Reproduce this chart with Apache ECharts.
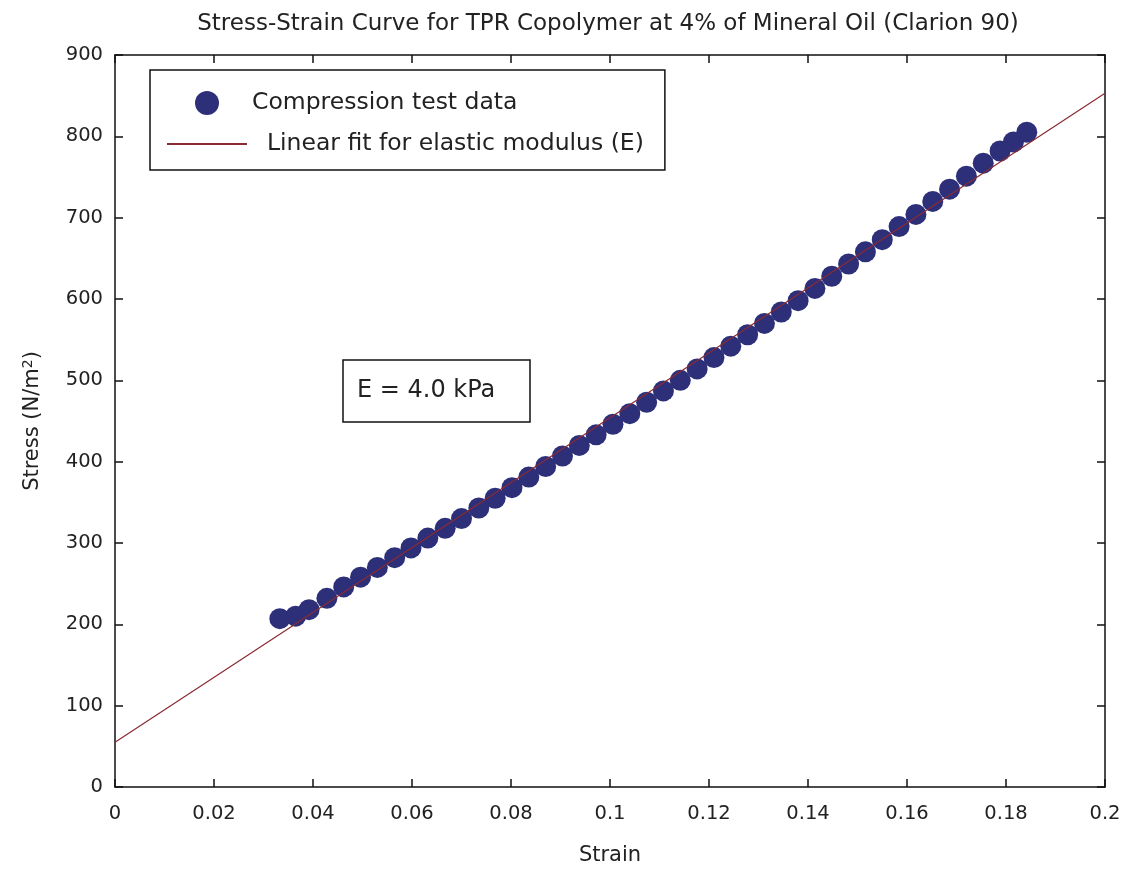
<!DOCTYPE html>
<html>
<head>
<meta charset="utf-8">
<script src="https://cdn.jsdelivr.net/npm/echarts@6/dist/echarts.min.js"></script>
<style>html,body{margin:0;padding:0;background:#fff;}#c{width:1129px;height:871px;}</style>
</head>
<body>
<div id="c"></div>
<script>
var strain = [0.0333,0.0365,0.0392,0.0428,0.0462,0.0496,0.0530,0.0565,0.0598,0.0632,0.0667,0.0700,0.0735,0.0768,0.0802,0.0836,0.0870,0.0904,0.0938,0.0972,0.1006,0.1040,0.1074,0.1108,0.1142,0.1176,0.1210,0.1244,0.1278,0.1312,0.1346,0.1380,0.1414,0.1448,0.1482,0.1516,0.1550,0.1584,0.1618,0.1652,0.1686,0.1720,0.1754,0.1788,0.1815,0.1842];
var stress = [207,210,218,232,246,258,270,282,294,306,318,330,343,355,368,381,394,407,420,433,446,459,473,487,500,514,528,542,556,570,584,598,613,628,643,658,673,689,704,720,735,751,767,782,793,805];
var fitStrain = [0, 0.2];
var fitStress = [55, 853];
var xTicks = [0,0.02,0.04,0.06,0.08,0.1,0.12,0.14,0.16,0.18,0.2];
var yTicks = [0,100,200,300,400,500,600,700,800,900];

var font = 'DejaVu Sans, Verdana, sans-serif';
var chart = echarts.init(document.getElementById('c'));
var scatterData = strain.map(function(x,i){return [x, stress[i]];});
var fitData = fitStrain.map(function(x,i){return [x, fitStress[i]];});
var axisLine = {show:true, onZero:false, lineStyle:{color:'#111', width:1.5}};
var axisTick = {show:true, inside:true, length:8, lineStyle:{color:'#111', width:1.5}};
chart.setOption({
  animation:false,
  backgroundColor:'#fff',
  title:{text:'Stress-Strain Curve for TPR Copolymer at 4% of Mineral Oil (Clarion 90)', left:603, textAlign:'center', top:8,
    textStyle:{fontFamily:font, fontSize:23, fontWeight:'normal', color:'#222'}},
  grid:{left:115, right:24, top:55, bottom:84},
  legend:{left:150, top:70, orient:'vertical', padding:[21,21,14,16], itemWidth:80, itemHeight:24, itemGap:17,
    borderColor:'#111', borderWidth:1.5, backgroundColor:'#fff', borderRadius:0,
    textStyle:{fontFamily:font, fontSize:23.5, color:'#222'},
    data:[{name:'Compression test data', icon:'circle'},
          {name:'  Linear fit for elastic modulus (E)', itemStyle:{opacity:0}}]},
  xAxis:[
    {type:'value', min:0, max:0.2, interval:0.02, position:'bottom',
     name:'Strain', nameLocation:'middle', nameGap:58, nameTextStyle:{fontFamily:font, fontSize:21, color:'#222'},
     axisLine:axisLine, axisTick:axisTick, splitLine:{show:false},
     axisLabel:{fontFamily:font, fontSize:19.5, color:'#222', margin:17, formatter:function(v){return String(+v.toFixed(2));}}},
    {type:'value', min:0, max:0.2, interval:0.02, position:'top', axisLine:axisLine, axisTick:axisTick, axisLabel:{show:false}, splitLine:{show:false}}
  ],
  yAxis:[
    {type:'value', min:0, max:900, interval:100, position:'left',
     name:'Stress (N/m{sup|2})', nameLocation:'middle', nameGap:70, nameRotate:90,
     nameTextStyle:{fontFamily:font, fontSize:21, color:'#222', rich:{sup:{fontFamily:font, fontSize:14, color:'#222', verticalAlign:'top', padding:[0,0,10,0]}}},
     axisLine:axisLine, axisTick:axisTick, splitLine:{show:false},
     axisLabel:{fontFamily:font, fontSize:19.5, color:'#222', margin:12}},
    {type:'value', min:0, max:900, interval:100, position:'right', axisLine:axisLine, axisTick:axisTick, axisLabel:{show:false}, splitLine:{show:false}}
  ],
  series:[
    {name:'Compression test data', type:'scatter', data:scatterData, symbol:'circle', symbolSize:21, z:3,
     itemStyle:{color:'#2d3079', opacity:1}},
    {name:'  Linear fit for elastic modulus (E)', type:'line', data:fitData, symbol:'none', showSymbol:false, z:4,
     lineStyle:{color:'#8b2a32', width:1.2}, itemStyle:{color:'#8b2a32'}}
  ],
  graphic:[
    {type:'rect', shape:{x:343, y:360, width:187, height:62}, style:{fill:'#fff', stroke:'#111', lineWidth:1.5}, z:10},
    {type:'text', x:357, y:391, style:{text:'E = 4.0 kPa', fontFamily:font, fontSize:24, fill:'#222', verticalAlign:'middle'}, z:11}
  ]
});
</script>
</body>
</html>
